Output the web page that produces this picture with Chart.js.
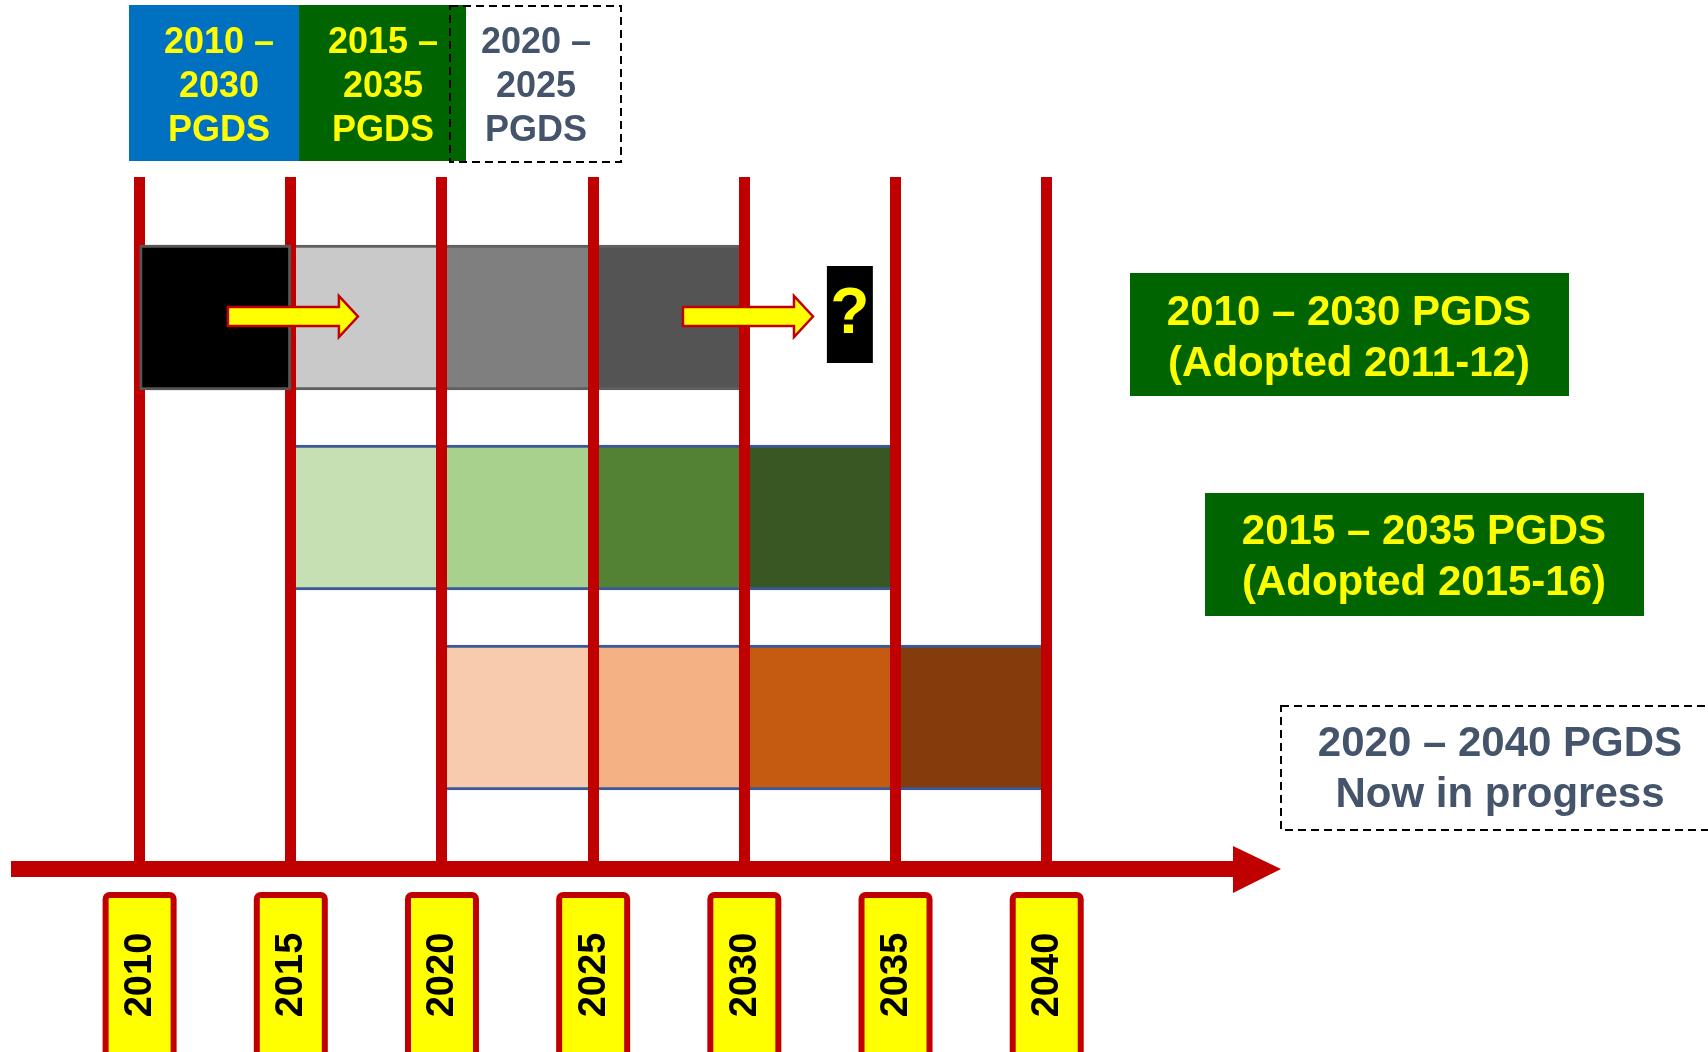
<!DOCTYPE html>
<html>
<head>
<meta charset="utf-8">
<script src="https://cdn.jsdelivr.net/npm/chart.js@4/dist/chart.umd.min.js"></script>
<style>
    body { margin: 0; background: #fff; }
</style>
</head>
<body>
<canvas id="timelineChart" width="1708" height="1052"></canvas>
<script>
// years marked on the timeline
const years = [2010, 2015, 2020, 2025, 2030, 2035, 2040];

// the three plans, one row each (top to bottom)
const plans = ['2010 – 2030 PGDS', '2015 – 2035 PGDS', '2020 – 2040 PGDS'];
const planRows = [0, 1, 2];

// five-year phases of each plan
const phases2010 = [[2010, 2015], [2015, 2020], [2020, 2025], [2025, 2030]];
const phases2015 = [[2015, 2020], [2020, 2025], [2025, 2030], [2030, 2035]];
const phases2020 = [[2020, 2025], [2025, 2030], [2030, 2035], [2035, 2040]];

const colors2010 = ['#000000', '#c9c9c9', '#7f7f7f', '#545454'];
const colors2015 = ['#c6e0b4', '#a9d18e', '#548235', '#385723'];
const colors2020 = ['#f8cbad', '#f4b183', '#c55a11', '#843c0c'];

// texts
const headerLabels = [['2010 –', '2030', 'PGDS'], ['2015 –', '2035', 'PGDS'], ['2020 –', '2025', 'PGDS']];
const planNotes = [['2010 – 2030 PGDS', '(Adopted 2011-12)'], ['2015 – 2035 PGDS', '(Adopted 2015-16)'], ['2020 – 2040 PGDS', 'Now in progress']];

// yellow arrows on the first plan row (from year, to year) and the "?" box
const arrows = [[2012.92, 2017.22], [2027.97, 2032.27]];
const questionSpan = [2032.73, 2034.25];

const RED = '#c00000';
const YELLOW = '#ffff00';
const SLATE = '#44546a';
const FONT = '"Liberation Sans", Arial, sans-serif';

function edges(first) {
    // top/bottom line on every phase, full frame on the first one if asked
    return [0, 1, 2, 3].map(i => (first && i === 0)
        ? { top: 3, bottom: 3, left: 3, right: 3 }
        : { top: 3, bottom: 3, left: 0, right: 0 });
}

function drawArrow(ctx, x0, x1, yc) {
    var head = 19, shaft = 9.5, half = 20.5;
    ctx.beginPath();
    ctx.moveTo(x0, yc - shaft);
    ctx.lineTo(x1 - head, yc - shaft);
    ctx.lineTo(x1 - head, yc - half);
    ctx.lineTo(x1, yc);
    ctx.lineTo(x1 - head, yc + half);
    ctx.lineTo(x1 - head, yc + shaft);
    ctx.lineTo(x0, yc + shaft);
    ctx.closePath();
    ctx.fillStyle = YELLOW;
    ctx.fill();
    ctx.lineWidth = 2.5;
    ctx.strokeStyle = RED;
    ctx.stroke();
}

function drawLines(ctx, lines, cx, ys, size, color) {
    ctx.font = 'bold ' + size + 'px ' + FONT;
    ctx.fillStyle = color;
    ctx.textAlign = 'center';
    ctx.textBaseline = 'middle';
    lines.forEach(function (t, i) { ctx.fillText(t, cx, ys[i]); });
}

function dashedRect(ctx, x, y, w, h) {
    ctx.save();
    ctx.setLineDash([8, 5]);
    ctx.lineWidth = 2;
    ctx.strokeStyle = '#000';
    ctx.strokeRect(x, y, w, h);
    ctx.restore();
}

const decorations = {
    id: 'decorations',
    afterDraw: function (chart) {
        var ctx = chart.ctx;
        var xs = chart.scales.x;
        var ys = chart.scales.y;
        ctx.save();

        // the first phase of the first plan sits on top of the red year lines
        chart.getDatasetMeta(0).data[0].draw(ctx);

        // header boxes
        ctx.fillStyle = '#0070c0';
        ctx.fillRect(129, 5, 170, 156);
        ctx.fillStyle = '#006400';
        ctx.fillRect(299, 5, 167, 156);
        dashedRect(ctx, 450, 6, 171, 156);
        var headY = [43.5, 87.5, 131.5];
        drawLines(ctx, headerLabels[0], 219, headY, 36, YELLOW);
        drawLines(ctx, headerLabels[1], 383, headY, 36, YELLOW);
        drawLines(ctx, headerLabels[2], 536, headY, 36, SLATE);

        // plan notes on the right
        ctx.fillStyle = '#006400';
        ctx.fillRect(1130, 273, 439, 123);
        ctx.fillRect(1205, 493, 439, 123);
        dashedRect(ctx, 1281, 706, 438, 124);
        drawLines(ctx, planNotes[0], 1349, [313, 364], 42, YELLOW);
        drawLines(ctx, planNotes[1], 1424, [532, 583], 42, YELLOW);
        drawLines(ctx, planNotes[2], 1500, [744, 795], 42, SLATE);

        // arrows and the question mark on the first plan
        var rowY = ys.getPixelForValue(planRows[0]);
        arrows.forEach(function (a) {
            drawArrow(ctx, xs.getPixelForValue(a[0]), xs.getPixelForValue(a[1]), rowY - 1);
        });
        var qx0 = xs.getPixelForValue(questionSpan[0]);
        var qx1 = xs.getPixelForValue(questionSpan[1]);
        ctx.fillStyle = '#000';
        ctx.fillRect(qx0, rowY - 51.5, qx1 - qx0, 97);
        drawLines(ctx, ['?'], (qx0 + qx1) / 2, [rowY - 2], 64, YELLOW);

        // time axis with arrow head
        ctx.fillStyle = RED;
        ctx.fillRect(11, 861, 1222, 16);
        ctx.beginPath();
        ctx.moveTo(1233, 846);
        ctx.lineTo(1281, 869);
        ctx.lineTo(1233, 893);
        ctx.closePath();
        ctx.fill();

        // year tags
        years.forEach(function (yr) {
            var x = xs.getPixelForValue(yr);
            ctx.beginPath();
            ctx.roundRect(x - 34, 895, 68, 170, 4);
            ctx.fillStyle = YELLOW;
            ctx.fill();
            ctx.lineWidth = 6;
            ctx.strokeStyle = RED;
            ctx.stroke();
            ctx.save();
            ctx.translate(x, 975);
            ctx.rotate(-Math.PI / 2);
            drawLines(ctx, [String(yr)], 0, [1], 38, '#000');
            ctx.restore();
        });

        ctx.restore();
    }
};

new Chart(document.getElementById('timelineChart'), {
    type: 'bar',
    data: {
        datasets: [
            {
                label: plans[0],
                data: phases2010.map(p => ({ x: p, y: planRows[0] })),
                backgroundColor: colors2010,
                borderColor: ['#555555', '#606060', '#606060', '#606060'],
                borderWidth: edges(true)
            },
            {
                label: plans[1],
                data: phases2015.map(p => ({ x: p, y: planRows[1] })),
                backgroundColor: colors2015,
                borderColor: '#3b5998',
                borderWidth: edges(false)
            },
            {
                label: plans[2],
                data: phases2020.map(p => ({ x: p, y: planRows[2] })),
                backgroundColor: colors2020,
                borderColor: '#3b5998',
                borderWidth: edges(false)
            }
        ]
    },
    options: {
        responsive: false,
        animation: false,
        indexAxis: 'y',
        grouped: false,
        barThickness: 145,
        borderSkipped: false,
        layout: { padding: { top: 177, bottom: 190, left: 0, right: 0 } },
        plugins: {
            legend: { display: false },
            tooltip: { enabled: false }
        },
        scales: {
            x: {
                type: 'linear',
                min: 2005.383,
                max: 2061.87,
                afterBuildTicks: function (axis) {
                    axis.ticks = years.map(v => ({ value: v }));
                },
                ticks: { display: false },
                border: { display: false },
                grid: { color: RED, lineWidth: 11, drawTicks: false, z: 1 }
            },
            y: {
                type: 'linear',
                display: false,
                offset: false,
                reverse: true,
                min: -0.7025,
                max: 2.7225
            }
        }
    },
    plugins: [decorations]
});
</script>
</body>
</html>
